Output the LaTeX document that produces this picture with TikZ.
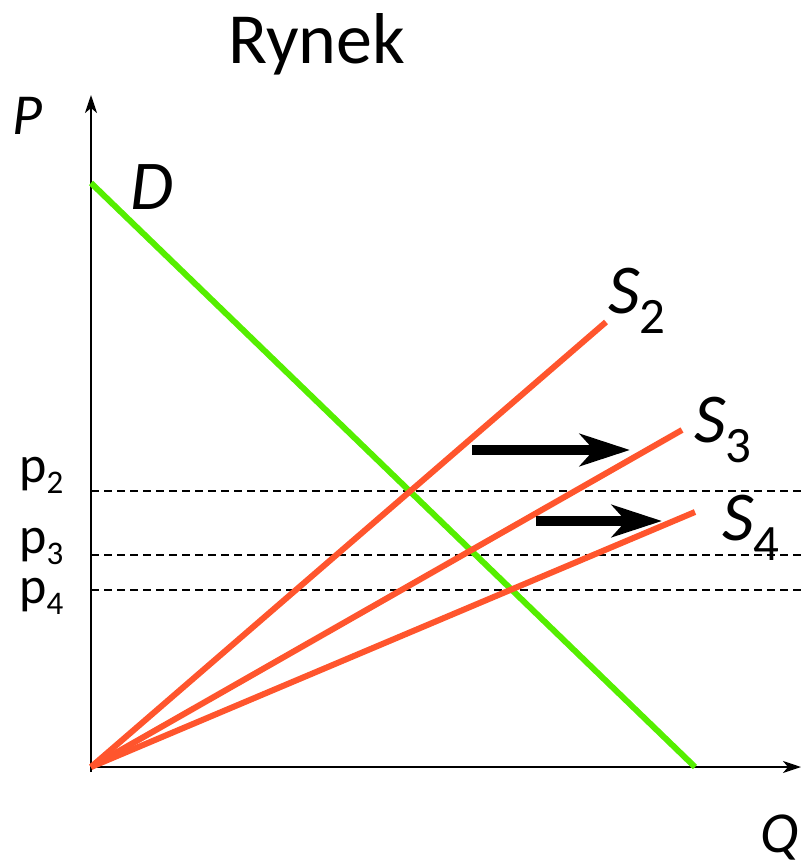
\documentclass[tikz,border=0pt]{standalone}
\usepackage{fontspec}
\setmainfont{Carlito}
\usetikzlibrary{arrows.meta,positioning}
\definecolor{dgreen}{RGB}{85,238,0}
\definecolor{sred}{RGB}{255,85,45}
\newcommand{\Sn}[1]{\textit{S}\raisebox{-20pt}{\upshape\fontsize{51}{51}\selectfont #1}}
\newcommand{\pn}[1]{p\raisebox{-11pt}{\fontsize{33}{33}\selectfont #1}}
\tikzset{
  axis/.style={line width=2.5pt,-{Stealth[length=18pt,width=12pt,inset=5pt]}},
  dem/.style={draw=dgreen,line width=6pt},
  sup/.style={draw=sred,line width=6pt},
  lvl/.style={line width=1.8pt,dash pattern=on 8pt off 5pt},
  shft/.style={line width=10pt,-{Stealth[length=50pt,width=32pt,inset=14pt]}},
  ttl/.style={anchor=base west,inner sep=0pt,font=\fontsize{72}{80}\selectfont},
  vlbl/.style={anchor=base west,inner sep=0pt,font=\fontsize{70}{76}\selectfont\itshape},
  plbl/.style={anchor=base west,inner sep=0pt,font=\fontsize{52}{60}\selectfont}
}

\begin{document}
\begin{tikzpicture}[x=1pt,y=-1pt]
  \useasboundingbox (0,0) rectangle (802,866);

  % axes
  \coordinate (O) at (91,767);
  \coordinate (ytip) at (91,95);
  \coordinate (xtip) at (801,767);
  \draw[axis] (91,772) -- (ytip);
  \draw[axis] (O) -- (xtip);

  % price levels
  \coordinate (l2a) at (91,491);  \coordinate (l2b) at (802,491);
  \coordinate (l3a) at (91,555);  \coordinate (l3b) at (802,555);
  \coordinate (l4a) at (91,590);  \coordinate (l4b) at (802,590);
  \draw[lvl] (l2a) -- (l2b);
  \draw[lvl] (l3a) -- (l3b);
  \draw[lvl] (l4a) -- (l4b);

  % demand and supply
  \coordinate (dtop) at (91,183);
  \coordinate (dend) at (695,767);
  \coordinate (s2end) at (606,322);
  \coordinate (s3end) at (682,430);
  \coordinate (s4end) at (695,512);
  \draw[dem] (dtop) -- (dend);
  \draw[sup] (O) -- (s2end);
  \draw[sup] (O) -- (s3end);
  \draw[sup] (O) -- (s4end);

  % shifts
  \coordinate (a1s) at (472,450);  \coordinate (a1e) at (630,450);
  \coordinate (a2s) at (536,521);  \coordinate (a2e) at (662,521);
  \draw[shft] (a1s) -- (a1e);
  \draw[shft] (a2s) -- (a2e);

  % labels
  \node[ttl] (title) at (228,64) {Rynek};
  \node[vlbl, font=\fontsize{58}{64}\selectfont\itshape] (plab) at (12,135) {P};
  \node[vlbl, font=\fontsize{58}{64}\selectfont\itshape] (qlab) at (760,852) {Q};
  \node[vlbl] (dlab) at (130,210) {D};
  \node[vlbl] (s2lab) at (608,313) {\Sn{2}};
  \node[vlbl] (s3lab) at (694,442) {\Sn{3}};
  \node[vlbl] (s4lab) at (722,540) {\Sn{4}};
  \node[plbl] (p2lab) at (19,482) {\pn{2}};
  \node[plbl] (p3lab) at (19,553) {\pn{3}};
  \node[plbl] (p4lab) at (19,603) {\pn{4}};
\end{tikzpicture}
\end{document}
